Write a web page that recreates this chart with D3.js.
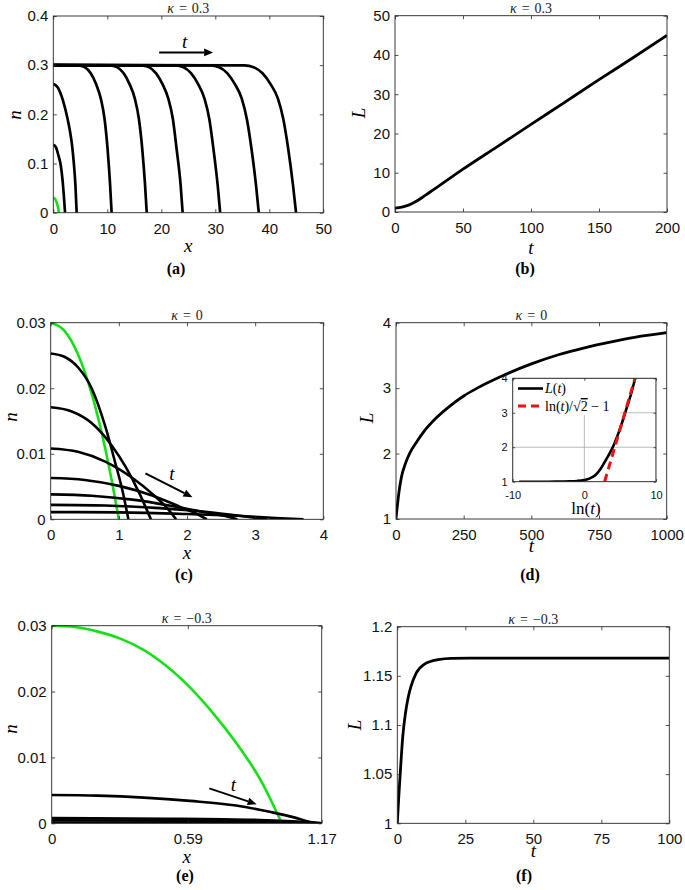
<!DOCTYPE html>
<html><head><meta charset="utf-8">
<script src="https://cdn.jsdelivr.net/npm/d3@7"></script>
<style>body{margin:0;background:#fff}svg{display:block}</style>
</head><body><svg id="c" width="685" height="890"></svg>
<script>
// ---------------- DATA ----------------
// (a) kappa = 0.3 : n(x) profiles
const aGreen = [[0,0.03],[0.2,0.0291],[0.4,0.0266],[0.6,0.0215],[0.8,0.014],[0.93,0.0075],[1.0,0]];
const aCurves = [
  [[0,0.138],[0.5,0.133],[0.93,0.117],[1.4,0.095],[1.74,0.063],[1.95,0.035],[2.1,0.012],[2.17,0]],
  [[0,0.262],[0.8,0.255],[1.85,0.226],[2.6,0.193],[3.1,0.165],[3.5,0.135],[3.83,0.097],[4.1,0.055],[4.33,0]],
  [[0,0.3],[4.6,0.2995],[5.8,0.296],[6.9,0.284],[7.9,0.262],[8.8,0.232],[9.5,0.19],[10.05,0.13],[10.5,0.06],[10.8,0]],
  [[0,0.3],[10.5,0.2995],[11.8,0.296],[13.0,0.284],[14.1,0.262],[15.1,0.232],[15.86,0.19],[16.47,0.13],[16.97,0.06],[17.3,0]],
  [[0,0.3],[16.3,0.2995],[17.7,0.296],[19.0,0.284],[20.2,0.262],[21.3,0.232],[22.15,0.19],[22.83,0.13],[23.59,0.055],[23.95,0]],
  [[0,0.3],[22.6,0.2995],[24.1,0.296],[25.5,0.284],[26.8,0.262],[28.0,0.232],[28.9,0.19],[29.65,0.13],[30.45,0.055],[30.9,0]],
  [[0,0.3],[29.1,0.2995],[30.7,0.296],[32.2,0.284],[33.6,0.262],[34.9,0.232],[35.85,0.19],[36.7,0.13],[37.55,0.055],[38.05,0]],
  [[0,0.3],[35.4,0.2995],[37.1,0.296],[38.7,0.284],[40.2,0.262],[41.6,0.232],[42.6,0.19],[43.5,0.13],[44.4,0.055],[44.95,0]]
];
const aArrow = [[19.6,0.326],[29.6,0.326]];
const aArrowLabel = [24.3,0.349];
const aXTicks = [0,10,20,30,40,50];
const aYTicks = [0,0.1,0.2,0.3,0.4];

// (b) kappa = 0.3 : L(t)
const bL = [[0,1],[5,1.25],[10,1.75],[15,2.6],[20,3.7],[25,4.9],[30,6.1],[40,8.5],[50,10.9],[75,16.6],[100,22.3],[125,28],[150,33.7],[175,39.3],[200,45]];
const bXTicks = [0,50,100,150,200];
const bYTicks = [0,10,20,30,40,50];

// (c) kappa = 0 : n(x) profiles
const cGreen = [[0,0.03],[0.2,0.0288],[0.4,0.0252],[0.6,0.0192],[0.8,0.0108],[0.9,0.0057],[1.0,0]];
const cCurves = [
  [[0,0.0253],[0.2,0.0248],[0.4,0.0232],[0.6,0.02],[0.8,0.0142],[0.95,0.0085],[1.05,0.0045],[1.14,0]],
  [[0,0.0171],[0.3,0.0165],[0.6,0.0147],[0.9,0.0112],[1.1,0.008],[1.3,0.004],[1.47,0]],
  [[0,0.0108],[0.4,0.0103],[0.8,0.0088],[1.2,0.0063],[1.5,0.0038],[1.7,0.0018],[1.84,0]],
  [[0,0.0063],[0.5,0.006],[1.0,0.0051],[1.5,0.0036],[1.9,0.0019],[2.15,0.0008],[2.29,0]],
  [[0,0.0038],[0.6,0.0036],[1.2,0.003],[1.8,0.002],[2.3,0.001],[2.6,0.0004],[2.74,0]],
  [[0,0.0022],[0.8,0.0021],[1.6,0.0017],[2.3,0.0011],[2.8,0.0005],[3.17,0]],
  [[0,0.0011],[1.0,0.00105],[2.0,0.0008],[2.8,0.0005],[3.3,0.0002],[3.71,0]]
];
const cArrow = [[1.39,0.0070],[2.08,0.00336]];
const cArrowLabel = [1.78,0.0070];
const cXTicks = [0,1,2,3,4];
const cYTicks = [0,0.01,0.02,0.03];

// (d) kappa = 0 : L(t) and inset vs ln(t)
const dL = [[0,1],[0.3,1.02],[1,1.05],[2,1.09],[3,1.13],[5,1.2],[10,1.38],[20,1.64],[35,1.85],[50,2.0],[75,2.17],[100,2.32],[150,2.55],[200,2.73],[250,2.88],[300,3.0],[400,3.2],[500,3.37],[600,3.51],[700,3.62],[800,3.71],[900,3.79],[1000,3.85]];
const dXTicks = [0,250,500,750,1000];
const dYTicks = [1,2,3,4];
const insetL = [[-9.1,1],[-6,1.0],[-4,1.002],[-2,1.01],[-1,1.022],[0,1.05],[0.7,1.09],[1.1,1.13],[1.6,1.2],[2.3,1.38],[3.0,1.63],[3.55,1.83],[3.9,1.97],[4.6,2.32],[5.0,2.55],[5.52,2.88],[6.0,3.2],[6.5,3.53],[6.91,3.85],[7.1,4.0]];
const insetAsym = [[2.83,1],[7.07,4]];
const insetXTicks = [-10,0,10];
const insetYTicks = [1,2,3,4];

// (e) kappa = -0.3 : n(x) profiles
const eGreen = [[0,0.03],[0.1,0.0298],[0.2,0.0291],[0.3,0.028],[0.4,0.0263],[0.5,0.0238],[0.6,0.0206],[0.7,0.0167],[0.8,0.0122],[0.9,0.0069],[0.997,0]];
const eCurves = [
  [[0,0.0043],[0.2,0.0042],[0.4,0.0039],[0.6,0.0034],[0.8,0.0027],[0.95,0.0017],[1.05,0.0009],[1.12,0.0002],[1.17,0]],
  [[0,0.00078],[0.5,0.0007],[0.9,0.0005],[1.1,0.0002],[1.17,0]],
  [[0,0.00045],[0.6,0.0004],[1.0,0.00022],[1.17,0]],
  [[0,0.00008],[1.17,0.00002]]
];
const eArrow = [[0.683,0.0053],[0.888,0.0029]];
const eArrowLabel = [0.787,0.0059];
const eXTicks = [0,0.59,1.17];
const eYTicks = [0,0.01,0.02,0.03];

// (f) kappa = -0.3 : L(t)
const fL = [[0,1],[0.5,1.025],[1,1.047],[2,1.088],[3,1.112],[4,1.128],[5,1.139],[7,1.153],[10,1.162],[15,1.1665],[20,1.1678],[30,1.168],[100,1.168]];
const fXTicks = [0,25,50,75,100];
const fYTicks = [1,1.05,1.1,1.15,1.2];

const titles = ["0.3","0.3","0","0","\u22120.3","\u22120.3"];
const panelLetters = ["(a)","(b)","(c)","(d)","(e)","(f)"];

// ---------------- DRAWING ----------------
const SANS = "'Liberation Sans', Arial, Helvetica, sans-serif";
const SERIF = "'Liberation Serif', 'Times New Roman', serif";
const AX = "#262626";
const GREEN = "#14e014";
const svg = d3.select('#c');
let clipId = 0;

function makePanel(c){
  const x = d3.scaleLinear().domain(c.xd).range([c.l,c.r]);
  const y = d3.scaleLinear().domain(c.yd).range([c.b,c.t]);
  const g = svg.append('g');
  const id = 'clip'+(clipId++);
  g.append('clipPath').attr('id',id).append('rect')
    .attr('x',c.l).attr('y',c.t-1).attr('width',c.r-c.l).attr('height',c.b-c.t+1);
  const plot = g.append('g').attr('clip-path',`url(#${id})`);
  return {x,y,g,plot,c};
}

function finishAxes(p, o){
  const {x,y,g,c} = p;
  const tl = o.tl||3.5, fs=o.fs||15;
  const fmt = d=>String(d);
  const gb = g.append('g').attr('transform',`translate(0,${c.b})`)
    .call(d3.axisBottom(x).tickValues(c.xt).tickSize(-tl).tickPadding(o.padB||10.5).tickFormat(fmt));
  const gl = g.append('g').attr('transform',`translate(${c.l},0)`)
    .call(d3.axisLeft(y).tickValues(c.yt).tickSize(-tl).tickPadding(o.padL||5).tickFormat(fmt));
  const gt = g.append('g').attr('transform',`translate(0,${c.t})`)
    .call(d3.axisTop(x).tickValues(c.xt).tickSize(-tl).tickFormat(''));
  const gr = g.append('g').attr('transform',`translate(${c.r},0)`)
    .call(d3.axisRight(y).tickValues(c.yt).tickSize(-tl).tickFormat(''));
  [gb,gl,gt,gr].forEach(a=>{
    a.select('.domain').remove();
    a.attr('font-family',SANS).attr('font-size',fs);
    a.selectAll('line').attr('stroke',AX).attr('stroke-width',0.8);
    a.selectAll('text').attr('fill','#111');
  });
  g.append('rect').attr('x',c.l).attr('y',c.t).attr('width',c.r-c.l).attr('height',c.b-c.t)
    .attr('fill','none').attr('stroke',AX).attr('stroke-width',0.9);
}

function line(p, data, color, w, dash, curve){
  const gen = d3.line().x(d=>p.x(d[0])).y(d=>p.y(d[1])).curve(curve||d3.curveMonotoneX);
  p.plot.append('path').attr('d',gen(data)).attr('fill','none').attr('stroke',color)
    .attr('stroke-width',w).attr('stroke-linejoin','round').attr('stroke-linecap','butt')
    .attr('stroke-dasharray',dash||null);
}

function arrow(p, a){
  const x0=p.x(a[0][0]), y0=p.y(a[0][1]), x1=p.x(a[1][0]), y1=p.y(a[1][1]);
  const dx=x1-x0, dy=y1-y0, len=Math.hypot(dx,dy), ux=dx/len, uy=dy/len;
  const hl=9, hw=3.8;
  const bx=x1-ux*hl, by=y1-uy*hl;
  p.g.append('line').attr('x1',x0).attr('y1',y0).attr('x2',bx).attr('y2',by)
    .attr('stroke','#000').attr('stroke-width',2);
  p.g.append('path').attr('d',`M${x1},${y1}L${bx-uy*hw},${by+ux*hw}L${bx+uy*hw},${by-ux*hw}Z`).attr('fill','#000');
}

function italicLabel(p, pos, txt){
  p.g.append('text').attr('x',p.x(pos[0])).attr('y',p.y(pos[1])).attr('text-anchor','middle')
    .attr('dominant-baseline','central').attr('font-family',SERIF).attr('font-style','italic')
    .attr('font-size',19).text(txt);
}

function decorate(p, i, o){
  const c=p.c, cx=(c.l+c.r)/2;
  const t = svg.append('text').attr('x',cx).attr('y',c.t-3).attr('text-anchor','middle')
    .attr('font-family',SERIF).attr('font-size',14).attr('fill','#222');
  t.append('tspan').attr('font-style','italic').text('\u03ba');
  t.append('tspan').attr('dx',5).text('=');
  t.append('tspan').attr('dx',5).text(titles[i]);
  svg.append('text').attr('x',cx).attr('y',o.xlY).attr('text-anchor','middle')
    .attr('font-family',SERIF).attr('font-style','italic').attr('font-size',19).text(o.xl);
  svg.append('text').attr('transform',`translate(${o.ylX},${o.ylY}) rotate(-90)`)
    .attr('text-anchor','middle').attr('dominant-baseline','central')
    .attr('font-family',SERIF).attr('font-style','italic').attr('font-size',19).text(o.yl);
  svg.append('text').attr('x',o.pX).attr('y',o.pY).attr('text-anchor','middle')
    .attr('font-family',SERIF).attr('font-weight','bold').attr('font-size',16).text(panelLetters[i]);
}

// (a)
{
  const p = makePanel({l:53.3,r:323.3,t:16,b:212.7,xd:[0,50],yd:[0,0.4],xt:aXTicks,yt:aYTicks});
  aCurves.forEach(cv=>line(p,cv,'#000',2.7));
  line(p,aGreen,GREEN,2.6);
  arrow(p,aArrow); italicLabel(p,aArrowLabel,'t');
  finishAxes(p,{});
  decorate(p,0,{xl:'x',xlY:252,yl:'n',ylX:14,ylY:115,pX:176,pY:274});
}
// (b)
{
  const p = makePanel({l:395,r:667,t:15.7,b:212,xd:[0,200],yd:[0,50],xt:bXTicks,yt:bYTicks});
  line(p,bL,'#000',2.8);
  finishAxes(p,{});
  decorate(p,1,{xl:'t',xlY:254,yl:'L',ylX:358,ylY:113,pX:525,pY:274});
}
// (c)
{
  const p = makePanel({l:50.7,r:323.3,t:322.7,b:519.3,xd:[0,4],yd:[0,0.03],xt:cXTicks,yt:cYTicks});
  line(p,cGreen,GREEN,2.6);
  cCurves.forEach(cv=>line(p,cv,'#000',2.6));
  arrow(p,cArrow); italicLabel(p,cArrowLabel,'t');
  finishAxes(p,{});
  decorate(p,2,{xl:'x',xlY:559,yl:'n',ylX:10,ylY:417,pX:184,pY:580});
}
// (d)
{
  const p = makePanel({l:396,r:666.7,t:322.7,b:519,xd:[0,1000],yd:[1,4],xt:dXTicks,yt:dYTicks});
  line(p,dL,'#000',2.8);
  finishAxes(p,{});
  decorate(p,3,{xl:'t',xlY:552,yl:'L',ylX:366,ylY:418,pX:530,pY:580});
  const q = makePanel({l:512.7,r:656,t:378.3,b:481.7,xd:[-10,10],yd:[1,4],xt:insetXTicks,yt:insetYTicks});
  q.g.insert('rect',':first-child').attr('x',q.c.l).attr('y',q.c.t).attr('width',q.c.r-q.c.l).attr('height',q.c.b-q.c.t).attr('fill','#fff');
  insetXTicks.forEach(v=>q.plot.append('line').attr('x1',q.x(v)).attr('x2',q.x(v)).attr('y1',q.c.t).attr('y2',q.c.b).attr('stroke','#a8a8a8').attr('stroke-width',0.8));
  insetYTicks.forEach(v=>q.plot.append('line').attr('y1',q.y(v)).attr('y2',q.y(v)).attr('x1',q.c.l).attr('x2',q.c.r).attr('stroke','#a8a8a8').attr('stroke-width',0.8));
  line(q,insetL,'#000',2.6);
  line(q,insetAsym,'#ee1111',3,'8,5');
  q.g.append('rect').attr('x',q.c.l+0.8).attr('y',q.c.t+0.8).attr('width',107).attr('height',36).attr('fill','#fff');
  q.g.append('line').attr('x1',518).attr('x2',543).attr('y1',388.5).attr('y2',388.5).attr('stroke','#000').attr('stroke-width',2.6);
  q.g.append('line').attr('x1',518).attr('x2',543).attr('y1',406).attr('y2',406).attr('stroke','#ee1111').attr('stroke-width',3).attr('stroke-dasharray','8,5');
  const l1 = q.g.append('text').attr('x',545).attr('y',393).attr('font-family',SERIF).attr('font-size',14);
  l1.append('tspan').attr('font-style','italic').text('L');
  l1.append('tspan').text('(');
  l1.append('tspan').attr('font-style','italic').text('t');
  l1.append('tspan').text(')');
  const l2 = q.g.append('text').attr('x',545).attr('y',411).attr('font-family',SERIF).attr('font-size',14);
  l2.append('tspan').text('ln(');
  l2.append('tspan').attr('font-style','italic').text('t');
  l2.append('tspan').text(')/\u221a');
  l2.append('tspan').attr('style','text-decoration:overline').text('2');
  l2.append('tspan').text(' \u2212 1');
  finishAxes(q,{fs:11,padB:9.5,padL:5,tl:2.5});
  const lb = q.g.append('text').attr('x',586).attr('y',514).attr('text-anchor','middle').attr('font-family',SERIF).attr('font-size',17);
  lb.append('tspan').text('ln(');
  lb.append('tspan').attr('font-style','italic').text('t');
  lb.append('tspan').text(')');
}
// (e)
{
  const p = makePanel({l:51.7,r:321.7,t:625.7,b:823.3,xd:[0,1.17],yd:[0,0.03],xt:eXTicks,yt:eYTicks});
  line(p,eGreen,GREEN,2.6,null,d3.curveCatmullRom.alpha(0.5));
  eCurves.forEach(cv=>line(p,cv,'#000',2.6));
  arrow(p,eArrow); italicLabel(p,eArrowLabel,'t');
  finishAxes(p,{});
  decorate(p,4,{xl:'x',xlY:863,yl:'n',ylX:10,ylY:729,pX:185,pY:881});
}
// (f)
{
  const p = makePanel({l:397.3,r:669.3,t:626.7,b:823.3,xd:[0,100],yd:[1,1.2],xt:fXTicks,yt:fYTicks});
  line(p,fL,'#000',2.8);
  finishAxes(p,{});
  decorate(p,5,{xl:'t',xlY:857,yl:'L',ylX:354,ylY:725,pX:524,pY:881});
}
</script></body></html>
